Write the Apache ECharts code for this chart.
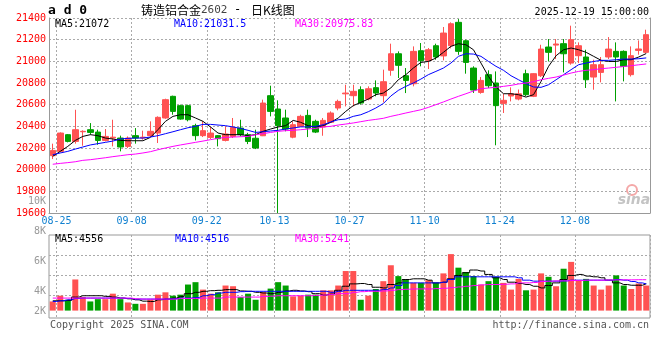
<!DOCTYPE html>
<html><head><meta charset="utf-8">
<script src="https://cdn.jsdelivr.net/npm/echarts@6/dist/echarts.min.js"></script>
<style>html,body{margin:0;padding:0;background:#fff}#c{width:660px;height:360px}</style>
</head><body><div id="c"></div>
<script>
const dates = ['08-22','08-25','08-26','08-27','08-28','08-29','09-01','09-02','09-03','09-04','09-05','09-08','09-09','09-10','09-11','09-12','09-15','09-16','09-17','09-18','09-19','09-22','09-23','09-24','09-25','09-26','09-29','09-30','10-09','10-10','10-13','10-14','10-15','10-16','10-17','10-20','10-21','10-22','10-23','10-24','10-27','10-28','10-29','10-30','10-31','11-03','11-04','11-05','11-06','11-07','11-10','11-11','11-12','11-13','11-14','11-17','11-18','11-19','11-20','11-21','11-24','11-25','11-26','11-27','11-28','12-01','12-02','12-03','12-04','12-05','12-08','12-09','12-10','12-11','12-12','12-15','12-16','12-17','12-18','12-19'];
const xTickLabels = ['08-25','09-08','09-22','10-13','10-27','11-10','11-24','12-08'];
const volTickLabels = ['2K','4K','6K','8K','10K'];

const open = [20129,20169,20323,20261,20350,20369,20347,20270,20292,20292,
20215,20314,20292,20314,20338,20477,20677,20591,20591,20406,
20314,20298,20314,20270,20307,20384,20323,20290,20313,20683,
20560,20477,20300,20400,20501,20446,20394,20437,20569,20700,
20683,20738,20652,20757,20683,20917,21070,20867,20793,21098,
21009,21144,21050,21144,21360,21190,20938,20713,20877,20800,
20612,20680,20652,20886,20677,20867,21132,21150,21163,20984,
21052,21040,20855,20898,21040,21092,21092,20877,21101,21083];
const close = [20178,20338,20261,20369,20354,20344,20270,20307,20300,20209,
20292,20292,20300,20354,20483,20646,20538,20467,20461,20314,
20360,20338,20286,20329,20390,20323,20261,20200,20615,20538,
20406,20375,20415,20492,20384,20347,20455,20523,20630,20707,
20723,20615,20747,20707,20812,21070,20963,20824,21092,21006,
21107,21040,21261,21347,21092,20990,20735,20824,20775,20591,
20640,20700,20700,20692,20886,21113,21083,21160,21070,21200,
21144,20830,20969,20969,21113,21040,20954,21052,21114,21246];
const low = [20098,20160,20252,20240,20221,20323,20230,20261,20215,20169,
20200,20240,20277,20301,20246,20470,20507,20461,20446,20270,
20301,20283,20215,20261,20292,20307,20236,20190,20310,20492,
19600,20354,20290,20394,20301,20338,20313,20430,20548,20584,
20584,20600,20640,20677,20621,20867,20846,20707,20769,20954,
20929,21015,21009,21120,21060,20886,20708,20701,20753,20225,
20523,20630,20640,20680,20670,20855,20999,21021,20898,20969,
20985,20754,20738,20806,21021,20630,20815,20860,21061,21075];
const high = [20240,20344,20329,20553,20363,20430,20369,20375,20461,20314,
20307,20384,20360,20446,20492,20655,20683,20600,20600,20424,
20446,20394,20320,20400,20477,20461,20340,20369,20646,20775,
20640,20554,20446,20507,20554,20461,20477,20538,20646,20784,
20784,20769,20769,20824,20923,21163,21092,20938,21138,21169,
21123,21163,21317,21360,21390,21200,20954,20855,20917,20907,
20700,20760,20740,20923,20890,21153,21206,21206,21206,21329,
21175,21107,21015,21040,21224,21175,21101,21138,21193,21292];

const ma5 = [20123,20169,20215,20270,20307,20323,20314,20292,20283,20270,
20267,20267,20267,20298,20369,20446,20492,20507,20507,20477,
20446,20394,20338,20323,20323,20323,20315,20323,20354,20375,
20394,20406,20455,20437,20406,20394,20406,20437,20477,20538,
20591,20621,20652,20692,20707,20754,20830,20877,20938,20990,
20999,21030,21083,21138,21163,21153,21107,20984,20861,20763,
20701,20701,20692,20670,20692,20815,20954,21052,21107,21123,
21107,21083,21046,21009,20999,20999,21015,21015,21040,21072];
const ma10 = [20138,20154,20169,20190,20209,20228,20240,20252,20264,20283,
20289,20292,20292,20301,20314,20332,20350,20369,20387,20400,
20418,20418,20412,20406,20394,20381,20363,20344,20350,20357,
20363,20375,20385,20395,20395,20400,20415,20440,20461,20467,
20492,20507,20535,20569,20610,20680,20732,20769,20800,20836,
20877,20907,20938,20984,21046,21070,21067,21046,20999,20954,
20917,20867,20830,20794,20763,20760,20784,20830,20877,20923,
20969,20984,20999,21009,21009,21015,21021,21021,21024,21031.5];
const ma30 = [20050,20058,20065,20073,20086,20092,20101,20110,20120,20129,
20138,20144,20154,20166,20184,20200,20215,20228,20240,20252,
20264,20277,20289,20298,20301,20304,20307,20323,20332,20344,
20354,20360,20363,20369,20375,20381,20394,20400,20412,20421,
20431,20443,20455,20464,20474,20492,20507,20523,20538,20553,
20575,20600,20625,20652,20677,20701,20726,20747,20754,20760,
20769,20778,20791,20800,20812,20830,20843,20855,20873,20892,
20907,20917,20923,20932,20938,20945,20952,20960,20968,20975.83];

const volume = [1550,2530,1840,5280,2290,1550,1940,1940,2870,1940,
1380,1150,1150,1840,2700,3100,2530,2700,4420,4820,
3560,2870,3100,4250,4130,2290,2870,1840,3150,3730,
4820,4250,2410,2530,2700,2700,3440,3440,4250,6710,
6710,1840,2530,3660,4990,7690,5850,5280,4700,4700,
5160,4700,6310,9580,7280,6540,5850,4420,4990,5730,
4700,3560,5380,3440,3560,6310,5730,4130,7100,8260,
5110,5380,4250,3560,4250,5970,4250,3660,4590,4250];
const volMa5 = [1660,1660,1720,2290,2520,2520,2520,2410,2290,2120,
2000,1830,1600,1550,1830,1950,2120,2410,2870,3100,
3270,3380,3440,3560,3560,3330,3270,3100,2980,2870,
3100,3330,3440,3330,3210,2870,2640,2800,3440,4130,
4530,4590,4420,3960,3840,4420,4700,5270,5390,5390,
5160,4700,4820,5390,5960,6420,6880,6710,6130,5560,
5270,4820,4590,4420,4130,3840,4250,4700,5270,5960,
6130,5850,5730,5560,5160,4700,4420,4300,4300,4556];
const volMa10 = [1550,1660,1830,2060,2120,2120,2120,2120,2120,2120,
2060,1950,1950,1950,1950,1950,2000,2120,2120,2230,
2520,2700,2980,3100,3100,3210,3270,3270,3270,3270,
3270,3270,3270,3270,3270,3270,3270,3100,3270,3440,
3440,3440,3440,3440,3560,3840,4250,4700,4700,4700,
4700,4700,4820,5270,5730,5730,5730,5730,5730,5730,
5730,5730,5560,5160,4990,4990,4990,4990,5040,5160,
5160,5160,5160,5160,5160,5270,5160,4930,4700,4516];
const volMa30 = [2120,2120,2120,2120,2120,2120,2120,2120,2120,2120,
2120,2000,1950,1950,1950,1950,1950,2060,2060,2060,
2120,2120,2120,2290,2290,2290,2290,2290,2400,2450,
2520,2520,2520,2520,2520,2580,2640,2750,2870,2870,
3100,3210,3270,3270,3330,3440,3560,3620,3670,3670,
3670,3730,3790,3900,4010,4130,4250,4360,4420,4420,
4470,4530,4700,4700,4760,4930,4990,5040,5040,5100,
5100,5160,5160,5160,5190,5190,5220,5220,5240,5241];

const UP = '#ff5252', DOWN = '#00a000';
const MONO = '"DejaVu Sans Mono", "Liberation Mono", monospace';
const CJK = '"Noto Sans CJK SC", sans-serif';
const GRID_DOT = {color: '#aaa', type: [2, 2], width: 1};
const labelSet = new Set(xTickLabels);
const showAt = (i, v) => labelSet.has(v);

const chart = echarts.init(document.getElementById('c'), null, {renderer: 'canvas'});

function txt(x, y, text, color, font, align) {
  return {type: 'text', x: x, y: y, silent: true, z: 100,
    style: {text: text, fill: color, font: font, textAlign: align || 'left', textVerticalAlign: 'middle'}};
}

chart.setOption({
  animation: false,
  backgroundColor: '#fff',
  grid: [
    {left: 49, width: 601, top: 18, height: 195},
    {left: 49, width: 601, top: 235, height: 83, show: true, borderColor: '#999', borderWidth: 1},
    {left: 49, width: 601, top: 201, height: 120}
  ],
  xAxis: [
    {type: 'category', gridIndex: 0, data: dates, boundaryGap: true,
     axisLine: {show: true, lineStyle: {color: '#999'}}, axisTick: {show: false},
     axisLabel: {interval: showAt, color: '#1080d0', fontFamily: MONO, fontSize: 10, margin: 3, padding: [0, 7.5, 0, 0]},
     splitLine: {show: true, interval: showAt, lineStyle: GRID_DOT}},
    {type: 'category', gridIndex: 1, data: dates, boundaryGap: true,
     axisLine: {show: false}, axisTick: {show: false}, axisLabel: {show: false},
     splitLine: {show: true, interval: showAt, lineStyle: GRID_DOT}},
    {type: 'category', gridIndex: 2, data: dates, show: false}
  ],
  yAxis: [
    {type: 'value', gridIndex: 0, min: 19600, max: 21400, interval: 200, position: 'left',
     axisLine: {show: true, lineStyle: {color: '#999'}}, axisTick: {show: false},
     axisLabel: {color: '#ff0000', fontFamily: MONO, fontSize: 10, margin: 3, formatter: v => String(v)},
     splitLine: {show: true, lineStyle: GRID_DOT}},
    {type: 'value', gridIndex: 0, min: 19600, max: 21400, position: 'right',
     axisLine: {show: true, lineStyle: {color: '#999'}}, axisTick: {show: false},
     axisLabel: {show: false}, splitLine: {show: false}},
    {type: 'value', gridIndex: 1, min: -1256, max: 12820, show: false, splitLine: {show: false}},
    {type: 'value', gridIndex: 1, min: 0, max: 83, interval: 20, inverse: true, position: 'left',
     axisLine: {show: false}, axisTick: {show: false}, axisLabel: {show: false},
     splitLine: {show: true, lineStyle: {color: ['rgba(0,0,0,0)', '#aaa', '#aaa', '#aaa', 'rgba(0,0,0,0)', 'rgba(0,0,0,0)'], type: [2, 2], width: 1}}},
    {type: 'value', gridIndex: 2, min: 2000, max: 10000, interval: 2000, position: 'left',
     axisLine: {show: false}, axisTick: {show: false}, splitLine: {show: false},
     axisLabel: {color: '#999', fontFamily: MONO, fontSize: 10, margin: 3,
       formatter: function (v) {
         const k = volTickLabels[Math.round((v - 2000) / 2000)];
         return v === 2000 ? '{lo|' + k + '}' : k;
       },
       rich: {lo: {padding: [0, 0, 20, 0], color: '#999', fontFamily: MONO, fontSize: 10}}}}
  ],
  series: [
    {type: 'candlestick', name: 'K', xAxisIndex: 0, yAxisIndex: 0, barWidth: 6,
     data: dates.map((d, i) => [open[i], close[i], low[i], high[i]]),
     itemStyle: {color: UP, color0: DOWN, borderColor: UP, borderColor0: DOWN, borderWidth: 1}},
    {type: 'line', name: 'MA5', xAxisIndex: 0, yAxisIndex: 0, data: ma5, symbol: 'none',
     lineStyle: {color: '#000', width: 1}, z: 5},
    {type: 'line', name: 'MA10', xAxisIndex: 0, yAxisIndex: 0, data: ma10, symbol: 'none',
     lineStyle: {color: '#0000ff', width: 1}, z: 5},
    {type: 'line', name: 'MA30', xAxisIndex: 0, yAxisIndex: 0, data: ma30, symbol: 'none',
     lineStyle: {color: '#ff00ff', width: 1}, z: 5},
    {type: 'bar', name: 'VOL', xAxisIndex: 1, yAxisIndex: 2, barWidth: 6, data: volume,
     itemStyle: {color: p => close[p.dataIndex] >= open[p.dataIndex] ? UP : DOWN}},
    {type: 'line', name: 'VMA5', xAxisIndex: 1, yAxisIndex: 2, data: volMa5, symbol: 'none', step: 'middle',
     lineStyle: {color: '#000', width: 1}, z: 5},
    {type: 'line', name: 'VMA10', xAxisIndex: 1, yAxisIndex: 2, data: volMa10, symbol: 'none', step: 'middle',
     lineStyle: {color: '#0000ff', width: 1}, z: 5},
    {type: 'line', name: 'VMA30', xAxisIndex: 1, yAxisIndex: 2, data: volMa30, symbol: 'none', step: 'middle',
     lineStyle: {color: '#ff00ff', width: 1}, z: 5}
  ],
  graphic: [
    txt(48, 11, 'a d 0', '#000', 'bold 13px ' + MONO),
    txt(141, 10, '铸造铝合金', '#000', '12px ' + CJK),
    txt(201, 10, '2602', '#444', '11px ' + MONO),
    txt(234, 10, '-', '#000', '12px ' + MONO),
    txt(251, 10, '日K线图', '#000', '12px ' + CJK),
    txt(649, 12, '2025-12-19 15:00:00', '#000', '10px ' + MONO, 'right'),
    txt(55, 24, 'MA5:21072', '#000', '10px ' + MONO),
    txt(174, 24, 'MA10:21031.5', '#0000ff', '10px ' + MONO),
    txt(295, 24, 'MA30:20975.83', '#ff00ff', '10px ' + MONO),
    txt(55, 239, 'MA5:4556', '#000', '10px ' + MONO),
    txt(175, 239, 'MA10:4516', '#0000ff', '10px ' + MONO),
    txt(295, 239, 'MA30:5241', '#ff00ff', '10px ' + MONO),
    txt(50, 325, 'Copyright 2025 SINA.COM', '#555', '10px ' + MONO),
    txt(649, 325, 'http://finance.sina.com.cn', '#555', '10px ' + MONO, 'right'),
    {type: 'circle', shape: {cx: 632, cy: 190, r: 5}, silent: true, z: 1,
     style: {fill: 'rgba(0,0,0,0)', stroke: '#f4a8a8', lineWidth: 2}},
    txt(634, 200, 'sina', '#c4c4c4', 'italic bold 14px "DejaVu Sans", sans-serif', 'center')
  ]
});
</script>
</body></html>
